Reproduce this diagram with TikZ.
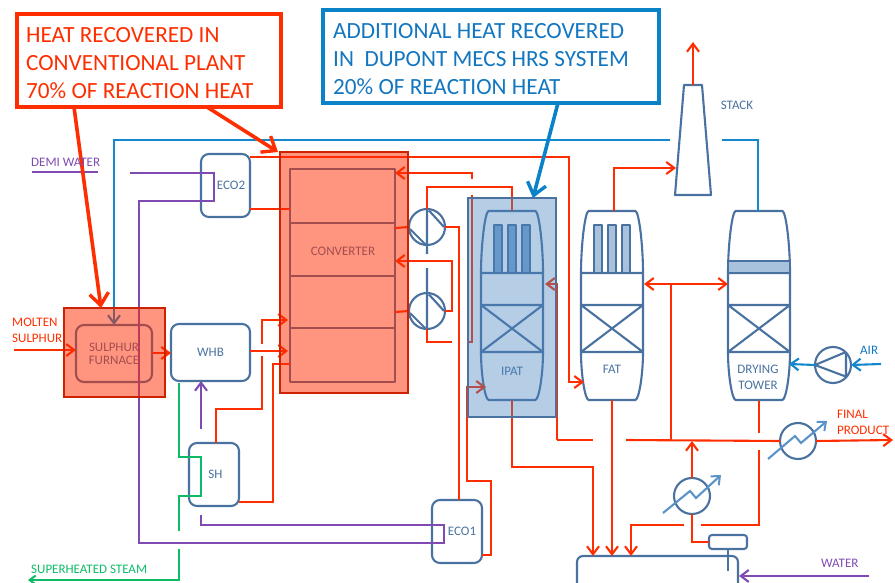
\documentclass[tikz,border=0pt]{standalone}
\usepackage{fontspec}
\setmainfont{Carlito}
\usetikzlibrary{arrows.meta}
\definecolor{pipered}{HTML}{FF2E00}
\definecolor{steel}{HTML}{4A72A0}
\definecolor{purp}{HTML}{7F4BB2}
\definecolor{grn}{HTML}{0DBB66}
\definecolor{sky}{HTML}{1488CC}
\definecolor{callblue}{HTML}{0A82C8}
\definecolor{txtblue}{HTML}{1276C0}
\definecolor{hotfill}{HTML}{FF2A00}
\definecolor{hotedge}{HTML}{CC2200}
\definecolor{coolfill}{HTML}{4682BE}
\definecolor{tube}{HTML}{A8C2DE}
\definecolor{zigblue}{HTML}{5B93C9}
\newcommand\towershape[1]{%
  \draw[equip] (#1-23.5,211) -- (#1+23.5,211) .. controls (#1+27,212) and (#1+31,245) .. (#1+31,273)
    -- (#1+31,352) .. controls (#1+31,375) and (#1+27,399) .. (#1+23.5,400) -- (#1-23.5,400)
    .. controls (#1-27,399) and (#1-31,375) .. (#1-31,352) -- (#1-31,273)
    .. controls (#1-31,245) and (#1-27,212) .. (#1-23.5,211) -- cycle;
  \draw[equip] (#1-31,273) -- (#1+31,273) (#1-31,305) -- (#1+31,305) (#1-31,352) -- (#1+31,352)
    (#1-31,305) -- (#1+31,352) (#1+31,305) -- (#1-31,352);
}
\newcommand\tubes[2]{%
  \foreach \dx in {-14,0,14}{\draw[equip,fill=#2] (#1+\dx-4,225) rectangle (#1+\dx+4,273);}
}
\tikzset{
  equip/.style={draw=steel,line width=2.1pt,line join=round},
  boxeq/.style={equip,rounded corners=8pt,inner sep=0pt,outer sep=0pt,text=steel,font=\fontsize{13}{14}\selectfont,align=center},
  disc/.style={equip,circle,inner sep=0pt,outer sep=0pt,minimum size=36pt},
  redpipe/.style={draw=pipered,line width=2.1pt,line join=miter},
  redarrow/.style={redpipe,-{Straight Barb[length=8pt,width=12pt,line width=2.1pt]}},
  purpipe/.style={draw=purp,line width=2.1pt},
  purarrow/.style={purpipe,-{Straight Barb[length=8pt,width=12pt,line width=2.1pt]}},
  grnpipe/.style={draw=grn,line width=2.1pt},
  skypipe/.style={draw=sky,line width=2.1pt},
  skyarrow/.style={skypipe,-{Straight Barb[length=8pt,width=12pt,line width=2.1pt]}},
  zig/.style={draw=zigblue,line width=2.1pt,-{Straight Barb[length=7pt,width=12pt,line width=2pt]}},
  lbl/.style={inner sep=0pt,font=\fontsize{13}{16}\selectfont,align=left},
  callout/.style={inner sep=0pt,outer sep=0pt,line width=3.5pt},
  calltext/.style={inner sep=0pt,font=\fontsize{23.2}{28}\selectfont,align=left,anchor=west},
  bigarrow/.style={line width=3.6pt,-{Straight Barb[length=12pt,width=19pt,line width=3.4pt]}},
}
\begin{document}
\begin{tikzpicture}[x=1pt,y=-1pt]
\useasboundingbox (0,0) rectangle (895,583);
% ---------- equipment ----------
\node[boxeq,minimum width=49pt,minimum height=63pt] (eco2) at (225.5,185.5) {\hspace*{11pt}ECO2};
\node[boxeq,minimum width=79pt,minimum height=57pt] (whb) at (210.5,352.5) {\raisebox{-3pt}{WHB}};
\node[boxeq,minimum width=50pt,minimum height=63pt] (sh) at (214,474.5) {\hspace*{3pt}SH};
\node[boxeq,minimum width=50pt,minimum height=63pt] (eco1) at (457,531.5) {\hspace*{10pt}ECO1};
\node[boxeq,minimum width=76pt,minimum height=57pt] (furn) at (114,353.5) {SULPHUR\\[-1pt]FURNACE};
\node[equip,minimum width=105pt,minimum height=213pt,inner sep=0pt,outer sep=0pt] (conv) at (342.5,275.5) {};
\draw[equip] (conv.west|-0,223) -- (conv.east|-0,223) (conv.west|-0,276) -- (conv.east|-0,276) (conv.west|-0,328) -- (conv.east|-0,328);
\node[text=steel,lbl] (convt) at (343,251) {CONVERTER};
\node[disc] (hx1) at (427,227) {};
\node[disc] (hx2) at (427,311) {};
\draw[equip] (hx1.north) -- (427,254) (429,210.5) -- (444,227) (410,229) -- (425,244);
\draw[equip] (427,268) -- (hx2.south) (429,294.5) -- (444,311) (410,313) -- (425,328);
% towers
\towershape{512}\tubes{512}{coolfill!70!white}
\towershape{612}\tubes{612}{tube}
\towershape{759}
\draw[equip,fill=tube] (728,261) rectangle (790,273);
\node[lbl,text=steel,align=center] (ipatt) at (512,371) {IPAT};
\node[lbl,text=steel,align=center] (fatt) at (612,369) {FAT};
\node[lbl,text=steel,align=center] (dryt) at (758,377) {DRYING\\TOWER};
\coordinate (ipatTop) at (512,211); \coordinate (ipatBot) at (512,400);
\coordinate (ipatR) at (545,284); \coordinate (ipatL) at (486,387);
\coordinate (fatTop) at (614,211); \coordinate (fatBot) at (612,400); \coordinate (fatR) at (644,284); \coordinate (fatL) at (584,382);
\coordinate (dryTop) at (758,211); \coordinate (dryBot) at (759,401); \coordinate (dryL) at (728,284); \coordinate (dryR) at (789,364);
% stack
\draw[equip] (684,85) -- (702,85) -- (711,195) -- (675,195) -- cycle;
\coordinate (stackTop) at (693,85); \coordinate (stackL) at (676,168);
\node[lbl,text=steel] (stackt) at (737,105) {STACK};
% blower
\node[disc] (blower) at (833,365) {};
\draw[equip] (blower.west) -- (846,352) (blower.west) -- (847,377) (846,352) -- (846,378);
% exchangers with zigzag
\node[disc] (hx3) at (798,441) {};
\node[disc] (hx4) at (692,496) {};
\draw[zig] (768,459) -- (795,436) -- (801,443) -- (827,421);
\draw[zig] (663,513) -- (690,491) -- (696,498) -- (721,475);
% tank and pot
\begin{scope}
\clip (0,0) rectangle (895,583);
\draw[equip,rounded corners=6pt] (577,600) -- (577,556) -- (738,556) -- (738,600);
\end{scope}
\coordinate (tankA) at (593,556); \coordinate (tankB) at (612,556); \coordinate (tankC) at (631,556); \coordinate (tankR) at (739,576);
\node[equip,rounded corners=3pt,minimum width=38pt,minimum height=14pt,inner sep=0pt,outer sep=0pt] (pot) at (728,542) {};
\coordinate (potIn) at (728,571);
\draw[equip] (pot.south) -- (potIn);
% ---------- free ends ----------
\coordinate (demiA) at (32,172); \coordinate (demiB) at (98,172);
\coordinate (ecoIn) at (130,173);
\coordinate (airIn) at (881,364);
\coordinate (prodOut) at (893,440);
\coordinate (moltenIn) at (14,350);
\coordinate (waterIn) at (869,576);
% ---------- purple ----------
\draw[purpipe] (demiA) -- (demiB);
\draw[purpipe] (ecoIn) -- (214,173) -- (214,201) -- (139,201) -- (139,543) -- (444,543) -- (444,525) -- (201,525) -- (201,515);
\coordinate (whbSteam) at (201,429);
\draw[purarrow] (whbSteam) -- (whb.south-|201,0);
\draw[purarrow] (waterIn) -- (tankR);
% ---------- green ----------
\draw[grnpipe] (179,383) -- (179,457) -- (201,457) -- (201,496) -- (179,496) -- (179,531);
\coordinate (steamEnd) at (28,580);
\draw[grnpipe,-{Straight Barb[length=6pt,width=9pt,line width=2pt]}] (179,549) -- (179,580) -- (steamEnd);
% ---------- sky ----------
\draw[skypipe,-{Straight Barb[length=8pt,width=12pt,line width=2.1pt]}] (670,140) -- (114,140) -- (furn.north-|114,0);
\draw[skypipe] (722,140) -- (758,140) -- (dryTop);
\draw[skyarrow] (blower.west) -- (dryR);
\draw[skyarrow] (airIn) -- (blower.east);
% ---------- red ----------
\draw[redarrow] (moltenIn) -- (furn.west|-0,350);
\draw[redarrow] (furn.east|-0,353) -- (whb.west|-0,353);
\draw[redarrow] (whb.east|-0,351) -- (288,351);
\draw[redarrow] (262,344) -- (262,320) -- (288,320);
\draw[redpipe] (262,356) -- (262,409) -- (216,409) -- (sh.north-|216,0);
\draw[redpipe] (conv.west|-0,364) -- (273,364) -- (273,502) -- (sh.east|-0,502);
\draw[redarrow] (eco2.east|-0,157) -- (569,157) -- (569,382) -- (fatL);
\draw[redpipe] (eco2.east|-0,209) -- (conv.west|-0,209);
\draw[redarrow] (472,179) -- (472,173) -- (conv.east|-0,173);
\draw[redpipe] (472,195) -- (472,342) -- (467,342);
\draw[redpipe] (hx1.north) -- (427,187) -- (512,187) -- (ipatTop);
\draw[redpipe] (conv.east|-0,228) -- (hx1.west);
\draw[redpipe] (hx1.east) -- (459,227) -- (459,500);
\draw[redpipe] (conv.east|-0,312) -- (hx2.west);
\draw[redarrow] (hx2.east) -- (452,311) -- (452,261) -- (conv.east|-0,261);
\draw[redpipe] (hx2.south) -- (427,342) -- (452,342);
\draw[redarrow] (557,440) -- (557,284) -- (ipatR);
\draw[redpipe] (557,440) -- (593,440);
\draw[redarrow] (ipatBot) -- (512,467) -- (593,467) -- (tankA);
\draw[redarrow] (eco1.east|-0,555) -- (491,555) -- (491,481) -- (467,481) -- (467,387) -- (ipatL);
\draw[redarrow] (fatTop) -- (614,168) -- (stackL);
\draw[redarrow] (stackTop) -- (693,42);
\draw[redarrow] (671,284) -- (fatR);
\draw[redarrow] (671,284) -- (dryL);
\draw[redpipe] (671,284) -- (671,440);
\draw[redpipe] (626,440) -- (hx3.west);
\draw[redarrow] (hx3.east) -- (prodOut);
\draw[redarrow] (hx4.north) -- (692,441);
\draw[redpipe] (hx4.south) -- (692,542) -- (pot.west);
\draw[redarrow] (fatBot) -- (tankB);
\draw[redarrow] (684,525) -- (631,525) -- (tankC);
\draw[redpipe] (701,525) -- (759,525) -- (759,450);
\draw[redpipe] (759,433) -- (dryBot);
% ---------- translucent heat zones ----------
\node[fill=hotfill,fill opacity=.5,minimum width=101pt,minimum height=89pt,inner sep=0pt,outer sep=0pt] (furnzone) at (114.5,352.5) {};
\draw[hotedge,line width=2.4pt] (furnzone.south west) rectangle (furnzone.north east);
\node[fill=hotfill,fill opacity=.5,minimum width=128pt,minimum height=241pt,inner sep=0pt,outer sep=0pt] (convzone) at (344,272.5) {};
\draw[hotedge,line width=2.4pt] (convzone.south west) rectangle (convzone.north east);
\node[fill=coolfill,fill opacity=.4,minimum width=88pt,minimum height=219pt,inner sep=0pt,outer sep=0pt] (ipatzone) at (512,307.5) {};
\draw[steel,line width=1.5pt] (ipatzone.south west) rectangle (ipatzone.north east);
% ---------- callouts ----------
\node[callout,draw=pipered,minimum width=264pt,minimum height=93pt] (heat) at (149,60.5) {};
\node[calltext,text=pipered] (heatt) at (26,63.5) {HEAT RECOVERED IN\\CONVENTIONAL PLANT\\70\% OF REACTION HEAT};
\node[callout,draw=callblue,minimum width=336pt,minimum height=93pt] (addh) at (491,56.5) {};
\node[calltext,text=txtblue] (addt) at (333,59.5) {ADDITIONAL HEAT RECOVERED\\IN\ \ DUPONT MECS HRS SYSTEM\\20\% OF REACTION HEAT};
\draw[bigarrow,pipered] (heat.south-|74,0) -- (furnzone.north-|101,0);
\draw[bigarrow,pipered] (heat.south-|207,0) -- (convzone.north-|278,0);
\draw[bigarrow,callblue] (addh.south-|558,0) -- (ipatzone.north-|533,0);
% ---------- labels ----------
\node[lbl,text=purp,anchor=west] (demit) at (31,162) {DEMI WATER};
\node[lbl,text=pipered,anchor=west] (moltent) at (12,330) {MOLTEN\\SULPHUR};
\node[lbl,text=grn,anchor=west] (steamt) at (31,569) {SUPERHEATED STEAM};
\node[lbl,text=purp,anchor=west] (watert) at (821,563) {WATER};
\node[lbl,text=txtblue,anchor=west] (airt) at (860,350) {AIR};
\node[lbl,text=pipered,anchor=west] (prodt) at (837,422) {FINAL\\PRODUCT};
\end{tikzpicture}
\end{document}
